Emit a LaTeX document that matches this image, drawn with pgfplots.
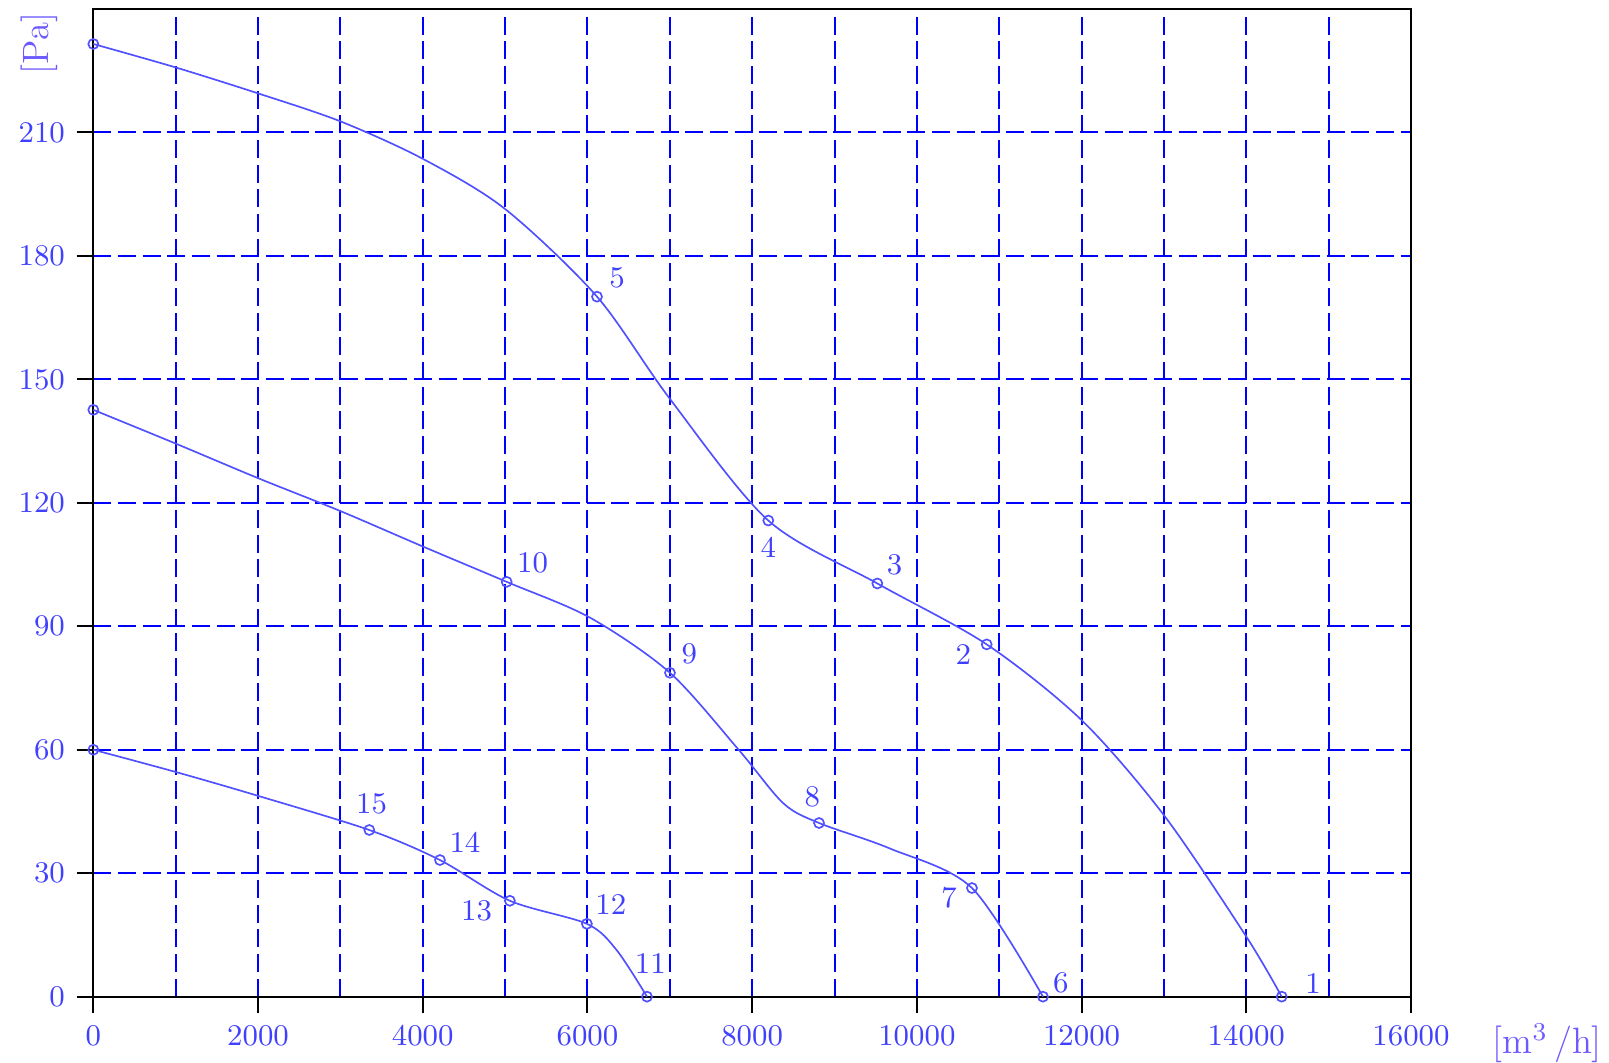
\documentclass[border=0pt]{standalone}
\usepackage{pgfplots}
\pgfplotsset{compat=1.18}

\definecolor{gridblue}{RGB}{0,0,255}
\definecolor{curveblue}{RGB}{80,80,255}
\definecolor{textblue}{RGB}{64,64,255}
\definecolor{unitblue}{RGB}{110,90,255}

\begin{document}
\begin{tikzpicture}
\useasboundingbox (-28pt,-19.9pt) rectangle (454.7pt,299pt);
\begin{axis}[%
at={(0,0)}, anchor=south west,
width=395.3pt,
height=296.3pt,
scale only axis,
xmin=0, xmax=16000,
ymin=0, ymax=240,
xtick={0,2000,...,16000},
ytick={0,30,...,210},
minor xtick={1000,2000,...,15000},
minor ytick={30,60,...,210},
xminorgrids=true, yminorgrids=true,
xmajorgrids=false, ymajorgrids=false,
minor grid style={gridblue, line width=0.6pt, dash pattern=on 5.4pt off 2pt},
minor tick length=0pt,
major tick length=5pt,
xtick align=outside, ytick align=outside,
tick pos=left,
major tick style={black, line width=0.6pt},
axis line style={black, line width=0.6pt},
scaled ticks=false,
/pgf/number format/1000 sep={},
/pgf/number format/assume math mode=true,
tick label style={font=\fontsize{9}{10}\selectfont, text=textblue},
clip=false,
]

% curve 1 (points 1-5)
\addplot [curveblue, line width=0.5pt, smooth] coordinates {
(0,231.5) (1000,225.8) (2000,219.5) (3000,212.7) (4000,203.6) (5000,191.4)
(6116,170.1) (7000,145.3) (8196,115.7) (9520,100.4) (10848,85.6)
(12000,67.2) (13000,44.1) (14000,14.6) (14430,0)
};
% curve 2 (points 6-10)
\addplot [curveblue, line width=0.5pt, smooth] coordinates {
(0,142.6) (1000,134.4) (2000,126.0) (3000,118.0) (4000,109.4) (5019,100.8)
(6031,92.1) (7002,78.7) (7832,60.1) (8378,47.0) (8812,42.2) (9673,36.0)
(10669,26.4) (11531,0)
};
% curve 3 (points 11-15)
\addplot [curveblue, line width=0.5pt, smooth] coordinates {
(0,60) (1000,54.6) (2000,48.8) (3351,40.5) (4209,33.2) (5058,23.3)
(5993,17.7) (6355,11.3) (6723,0)
};

\addplot [only marks, mark=o, mark size=1.5pt, curveblue, mark options={line width=0.5pt}] coordinates {
(0,231.5) (6116,170.1) (8196,115.7) (9520,100.4) (10848,85.6) (14430,0)
(0,142.6) (5019,100.8) (7002,78.7) (8812,42.2) (10669,26.4) (11531,0)
(0,60) (3351,40.5) (4209,33.2) (5058,23.3) (5993,17.7) (6723,0)
};

\begin{scope}[every node/.style={text=textblue, font=\fontsize{9}{10}\selectfont}]
\node[xshift=9.4pt, yshift=4pt]   at (axis cs:14430,0)     {1};
\node[xshift=-7pt, yshift=-2.9pt] at (axis cs:10848,85.6)  {2};
\node[xshift=5.2pt, yshift=5.5pt] at (axis cs:9520,100.4)  {3};
\node[xshift=0pt, yshift=-8pt]    at (axis cs:8196,115.7)  {4};
\node[xshift=6pt, yshift=5.7pt]   at (axis cs:6116,170.1)  {5};
\node[xshift=5.4pt, yshift=4.2pt] at (axis cs:11531,0)     {6};
\node[xshift=-6.9pt, yshift=-3pt] at (axis cs:10669,26.4)  {7};
\node[xshift=-2pt, yshift=7.8pt]  at (axis cs:8812,42.2)   {8};
\node[xshift=5.8pt, yshift=5.8pt] at (axis cs:7002,78.7)   {9};
\node[xshift=7.8pt, yshift=5.7pt] at (axis cs:5019,100.8)  {10};
\node[xshift=1pt, yshift=10pt]    at (axis cs:6723,0)      {11};
\node[xshift=7.2pt, yshift=5.7pt] at (axis cs:5993,17.7)   {12};
\node[xshift=-10pt, yshift=-3pt]  at (axis cs:5058,23.3)   {13};
\node[xshift=7.5pt, yshift=5.4pt] at (axis cs:4209,33.2)   {14};
\node[xshift=0.7pt, yshift=7.8pt] at (axis cs:3351,40.5)   {15};
\end{scope}

\node[rotate=90, text=unitblue, font=\fontsize{11}{12}\selectfont]
  at ([xshift=-16.3pt]rel axis cs:0,0.965) {[Pa]};
\node[anchor=base, text=unitblue, font=\fontsize{11}{12}\selectfont]
  at ([xshift=40.9pt, yshift=-17pt]rel axis cs:1,0) {[m\textsuperscript{3}\,/h]};

\end{axis}
\end{tikzpicture}
\end{document}
